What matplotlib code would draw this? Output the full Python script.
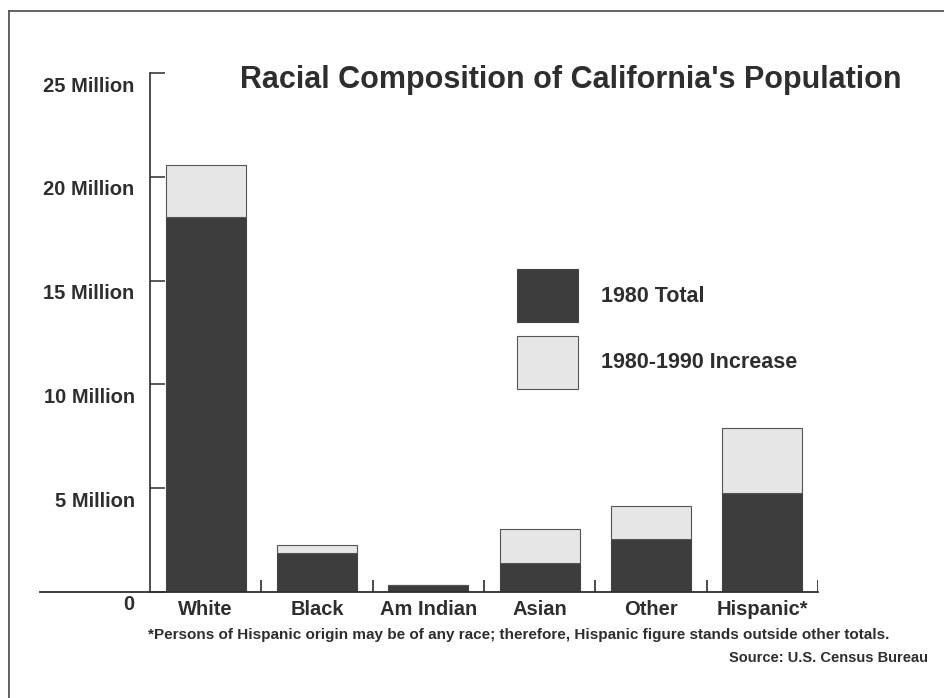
import numpy as np
import matplotlib
matplotlib.use("Agg")
import matplotlib.pyplot as plt
import matplotlib.transforms as mtransforms
from matplotlib.patches import Patch
from matplotlib.lines import Line2D

# population in millions
groups = ["White", "Black", "Am Indian", "Asian", "Other", "Hispanic*"]
total_1980 = [18.05, 1.90, 0.33, 1.40, 2.55, 4.78]
total_1990 = [20.55, 2.25, 0.36, 3.02, 4.14, 7.91]
increase = [b - a for a, b in zip(total_1980, total_1990)]
ytick_vals = [0, 5, 10, 15, 20, 25]
ytick_labels = ["0", "5 Million", "10 Million", "15 Million", "20 Million", "25 Million"]

ink = "#2e2e2e"
dark = "#3d3d3d"
light = "#e6e6e6"
plt.rcParams['font.family'] = ['Liberation Sans', 'DejaVu Sans']

W, H = 944, 698
fig = plt.figure(figsize=(W / 100, H / 100), dpi=100)
ax = fig.add_axes([150 / W, 106 / H, 668 / W, 519 / H])

x = np.arange(len(groups))
ax.bar(x, total_1980, width=0.72, color=dark, edgecolor="#444444", linewidth=0.8)
ax.bar(x, increase, bottom=total_1980, width=0.72, color=light,
       edgecolor="#555555", linewidth=0.8)

ax.set_xlim(-0.5, 5.5)
ax.set_ylim(0, 25)

for s in ["top", "right", "bottom"]:
    ax.spines[s].set_visible(False)
ax.spines["left"].set_color(ink)
ax.spines["left"].set_linewidth(1.2)

# baseline runs past the y axis to the left
ax.plot([-0.165, 1.0], [0, 0], transform=ax.transAxes, color=ink, lw=1.3, clip_on=False)
# small separators between the bars
ax.vlines(np.arange(0.5, 6, 1), 0, 0.6, color=ink, lw=1.2)

ax.set_yticks(ytick_vals, ytick_labels)
ax.tick_params(axis="y", direction="in", length=11, width=1.1, color=ink, pad=11,
               labelsize=14.5, labelcolor=ink)
for lab in ax.get_yticklabels():
    lab.set_fontweight("bold")
    lab.set_transform(lab.get_transform() +
                      mtransforms.ScaledTranslation(0, -0.11, fig.dpi_scale_trans))

ax.set_xticks(x, groups)
ax.tick_params(axis="x", length=0, pad=6, labelsize=14.5, labelcolor=ink)
for lab in ax.get_xticklabels():
    lab.set_fontweight("bold")

fig.text(240 / W, 1 - 80 / H, "Racial Composition of California's Population",
         fontsize=22, fontweight="bold", color=ink, ha="left", va="center")

handles = [Patch(facecolor=dark, edgecolor="#444444", linewidth=0.8),
           Patch(facecolor=light, edgecolor="#555555", linewidth=0.8)]
fig.legend(handles, ["1980 Total", "1980-1990 Increase"], loc="upper left",
           bbox_to_anchor=(517 / W, 1 - 269 / H), frameon=False, borderpad=0,
           borderaxespad=0, handlelength=2.85, handleheight=3.4, labelspacing=0.65,
           handletextpad=1.05, prop={"size": 15.5, "weight": "bold"}, labelcolor=ink)

fig.text(148 / W, 1 - 635 / H,
         "*Persons of Hispanic origin may be of any race; therefore, Hispanic figure stands outside other totals.",
         fontsize=11, fontweight="bold", color=ink, ha="left", va="center")
fig.text(928 / W, 1 - 658 / H, "Source: U.S. Census Bureau",
         fontsize=10.5, fontweight="bold", color=ink, ha="right", va="center")

# outer frame (left and top edges)
fig.add_artist(Line2D([9 / W, 9 / W], [0, 1 - 11 / H], color="#555555", lw=1.3))
fig.add_artist(Line2D([9 / W, 1], [1 - 11 / H, 1 - 11 / H], color="#555555", lw=1.3))

fig.savefig("out.png", dpi=100)
